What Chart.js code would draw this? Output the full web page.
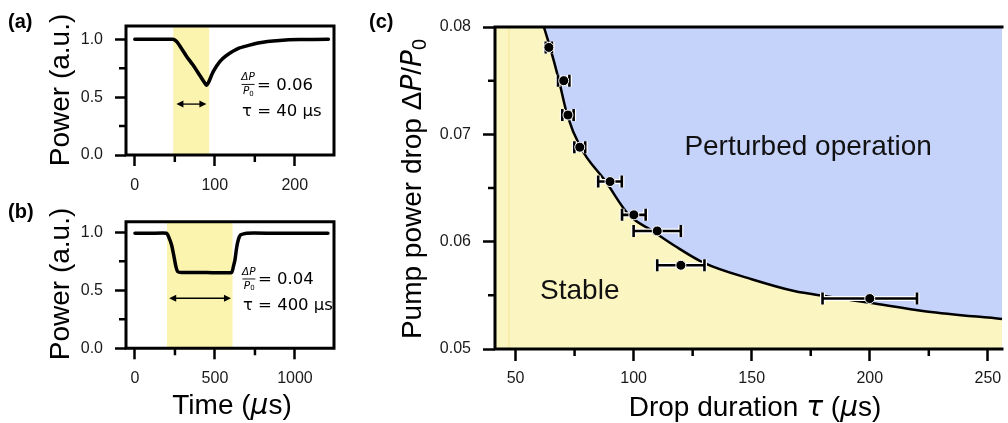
<!DOCTYPE html>
<html lang="en">
<head>
<meta charset="UTF-8">
<title>Pump power drop stability</title>
<script src="https://cdn.jsdelivr.net/npm/chart.js"></script>
<style>
  body { margin: 0; background: #fff; width: 1008px; height: 423px; overflow: hidden; position: relative; }
  canvas { position: absolute; }
  .panel { position: absolute; font-family: "Liberation Sans", Arial, sans-serif; font-weight: bold; font-size: 20px; line-height: 20px; color: #000; }
</style>
</head>
<body>
<canvas id="chartA" width="345" height="200" style="left:0;top:0"></canvas>
<canvas id="chartB" width="345" height="228" style="left:0;top:195px"></canvas>
<canvas id="chartC" width="638" height="423" style="left:370px;top:0"></canvas>
<div class="panel" style="left:8px;top:11px">(a)</div>
<div class="panel" style="left:8px;top:201px">(b)</div>
<div class="panel" style="left:369px;top:11px">(c)</div>

<script>
// ---- panel (a): short 40 us drop
const timeA  = [0, 20, 40, 47, 50, 53, 57, 65, 73, 82, 89.5, 92, 98, 106, 115, 131, 156, 181, 206, 242];
const powerA = [1.0, 1.0, 1.0, 1.0, 0.995, 0.975, 0.935, 0.85, 0.776, 0.68, 0.604, 0.625, 0.72, 0.805, 0.862, 0.925, 0.971, 0.99, 0.998, 1.0];
const bandA  = [48, 93];
const arrowA = [52, 89.5, 0.44];
const xMajorA = [0, 100, 200];
const xMinorA = [50, 150];

// ---- panel (b): long 400 us drop
const timeB  = [0, 100, 198, 210, 229, 244, 256, 267, 292, 450, 604, 615, 625, 635, 646, 660, 698, 850, 1000, 1206];
const powerB = [0.99, 0.99, 0.991, 0.962, 0.89, 0.79, 0.703, 0.66, 0.652, 0.652, 0.652, 0.703, 0.761, 0.862, 0.934, 0.977, 0.991, 0.991, 0.99, 0.99];
const bandB  = [200, 610];
const arrowB = [214, 600, 0.431];
const xMajorB = [0, 500, 1000];
const xMinorB = [250, 750];

// power axis of (a) and (b)
const yMajorPower = [0, 0.5, 1.0];
const yMinorPower = [0.25, 0.75];

// ---- panel (c): stability map
const dropTau    = [64.1, 70.4, 72.2, 77.2, 90.0, 100.1, 110, 120, 200];
const dropDP     = [0.0781, 0.0750, 0.0718, 0.0688, 0.0656, 0.0625, 0.0610, 0.0578, 0.0547];
const dropTauErr = [1.3, 2.4, 2.4, 2.3, 5, 5, 10, 10, 20];
const edgeTau = [62, 64.5, 68.3, 71.9, 77.5, 88.2, 98, 108, 117.5, 130, 150, 168, 182, 200, 224, 256];
const edgeDP  = [0.0800, 0.0782, 0.0751, 0.0718, 0.0688, 0.0656, 0.0625, 0.0610, 0.0596, 0.0580, 0.0565, 0.0554, 0.0549, 0.0543, 0.0535, 0.0528];
const xMajorC = [50, 100, 150, 200, 250];
const xMinorC = [75, 125, 175, 225];
const yMajorC = [0.05, 0.06, 0.07, 0.08];
const yMinorC = [0.055, 0.065, 0.075];

const SANS = '"Liberation Sans", Arial, "DejaVu Sans", sans-serif';
const MATH = '"DejaVu Sans", sans-serif';
const TITLE = '28px ' + SANS;
const TITLE_IT = 'italic 28px ' + MATH;
const YELLOW_BAND = '#fbf4ae';
const YELLOW_STABLE = '#fbf6c1';
const BLUE_PERTURBED = '#c5d2fa';

function toXY(xs, ys) {
  return xs.map(function (x, i) { return {x: x, y: ys[i]}; });
}

function fixScale(size, horizontal) {
  return function (s) {
    if (horizontal) s.height = size; else s.width = size;
    s.paddingTop = s.paddingBottom = s.paddingLeft = s.paddingRight = 0;
  };
}

function useTicks(values) {
  return function (s) { s.ticks = values.map(function (v) { return {value: v}; }); };
}

// text made of several font runs, centred on x, baseline at y (rotated for y titles)
function drawRich(ctx, parts, x, y, rotate) {
  ctx.save();
  ctx.translate(x, y);
  if (rotate) ctx.rotate(-Math.PI / 2);
  ctx.fillStyle = '#000';
  ctx.textBaseline = 'alphabetic';
  ctx.textAlign = 'left';
  let w = 0;
  parts.forEach(function (p) { ctx.font = p.f; w += ctx.measureText(p.t).width; });
  let cx = -w / 2;
  parts.forEach(function (p) {
    ctx.font = p.f;
    ctx.fillText(p.t, cx, p.dy || 0);
    cx += ctx.measureText(p.t).width;
  });
  ctx.restore();
}

// axis titles (drawn here so they may run past the plot height like the original)
const axisTitles = {
  id: 'axisTitles',
  afterDraw(chart, args, opts) {
    (opts.items || []).forEach(function (it) {
      drawRich(chart.ctx, it.parts, it.x, it.y, it.rotate);
    });
  }
};

// black frame around the plot area, plus the short minor ticks
const spines = {
  id: 'spines',
  afterDraw(chart, args, opts) {
    const a = chart.chartArea, ctx = chart.ctx;
    ctx.save();
    ctx.strokeStyle = '#000';
    ctx.lineWidth = 2.5;
    ctx.beginPath();
    (opts.xMinor || []).forEach(function (v) {
      const x = chart.scales.x.getPixelForValue(v);
      ctx.moveTo(x, a.bottom); ctx.lineTo(x, a.bottom + opts.minorLen);
    });
    (opts.yMinor || []).forEach(function (v) {
      const y = chart.scales.y.getPixelForValue(v);
      ctx.moveTo(a.left, y); ctx.lineTo(a.left - opts.minorLen, y);
    });
    ctx.stroke();
    ctx.lineWidth = 3;
    ctx.beginPath();
    ctx.moveTo(a.left, a.bottom); ctx.lineTo(a.left, a.top);
    if (opts.right) { ctx.moveTo(a.right, a.top); ctx.lineTo(a.right, a.bottom); }
    ctx.moveTo(a.left - 1.5, a.top); ctx.lineTo(a.right + 1.5, a.top);
    ctx.moveTo(a.left - 1.5, a.bottom); ctx.lineTo(a.right + 1.5, a.bottom);
    ctx.stroke();
    ctx.restore();
  }
};

// yellow drop window, double arrow and the dP / tau note
const pulseNotes = {
  id: 'pulseNotes',
  beforeDatasetsDraw(chart, args, o) {
    const a = chart.chartArea, ctx = chart.ctx, xs = chart.scales.x;
    ctx.save();
    ctx.fillStyle = YELLOW_BAND;
    const x1 = xs.getPixelForValue(o.band[0]), x2 = xs.getPixelForValue(o.band[1]);
    ctx.fillRect(x1, a.top, x2 - x1, a.bottom - a.top);
    ctx.restore();
  },
  afterDatasetsDraw(chart, args, o) {
    const ctx = chart.ctx, xs = chart.scales.x, ys = chart.scales.y;
    ctx.save();
    // double arrow
    const ax1 = xs.getPixelForValue(o.arrow[0]), ax2 = xs.getPixelForValue(o.arrow[1]);
    const ay = ys.getPixelForValue(o.arrow[2]);
    ctx.strokeStyle = '#000'; ctx.fillStyle = '#000'; ctx.lineWidth = 1.3;
    ctx.beginPath(); ctx.moveTo(ax1 + 4, ay); ctx.lineTo(ax2 - 4, ay); ctx.stroke();
    ctx.beginPath();
    ctx.moveTo(ax1, ay); ctx.lineTo(ax1 + 7, ay - 3.5); ctx.lineTo(ax1 + 7, ay + 3.5); ctx.closePath();
    ctx.moveTo(ax2, ay); ctx.lineTo(ax2 - 7, ay - 3.5); ctx.lineTo(ax2 - 7, ay + 3.5); ctx.closePath();
    ctx.fill();

    // fraction dP/P0
    const fx = xs.getPixelForValue(o.note[0]), fy = ys.getPixelForValue(o.note[1]);
    ctx.textBaseline = 'middle';
    ctx.textAlign = 'center';
    ctx.font = 'italic 10.5px ' + MATH;
    ctx.fillText('ΔP', fx, fy - 7);
    ctx.fillText('P', fx - 2, fy + 7);
    ctx.font = '7px ' + MATH;
    ctx.fillText('0', fx + 3.5, fy + 9.5);
    ctx.lineWidth = 0.9;
    ctx.beginPath(); ctx.moveTo(fx - 6.5, fy); ctx.lineTo(fx + 6.5, fy); ctx.stroke();
    ctx.textAlign = 'left';
    ctx.font = '16.5px ' + MATH;
    ctx.fillText('= ' + o.dp, fx + 9, fy + 1);
    ctx.fillText('τ = ' + o.tau + ' μs', fx - 6, fy + 27);
    ctx.restore();
  }
};

function pulseOptions(xMin, xMax, xMajor, xMinor, yMax, top, xHeight, titles, notes) {
  return {
    responsive: false,
    animation: false,
    layout: {padding: {left: 0, top: top, right: 11, bottom: 0}},
    plugins: {
      legend: {display: false},
      tooltip: {enabled: false},
      spines: {right: true, xMinor: xMinor, yMinor: yMinorPower, minorLen: 7},
      axisTitles: {items: titles},
      pulseNotes: notes
    },
    scales: {
      x: {
        type: 'linear', min: xMin, max: xMax,
        afterBuildTicks: useTicks(xMajor),
        afterFit: fixScale(xHeight, true),
        border: {display: false},
        grid: {drawOnChartArea: false, drawTicks: true, tickLength: 11, tickWidth: 2.5, tickColor: '#000'},
        ticks: {
          autoSkip: false, maxRotation: 0, padding: 10,
          color: '#1a1a1a', font: {family: SANS, size: 16},
          callback: function (v) { return String(v); }
        }
      },
      y: {
        type: 'linear', min: 0, max: yMax,
        afterBuildTicks: useTicks(yMajorPower),
        afterFit: fixScale(126, false),
        border: {display: false},
        grid: {drawOnChartArea: false, drawTicks: true, tickLength: 11, tickWidth: 2.5, tickColor: '#000'},
        ticks: {
          autoSkip: false, padding: 12,
          color: '#1a1a1a', font: {family: SANS, size: 16},
          callback: function (v) { return v.toFixed(1); }
        }
      }
    }
  };
}

function traceDataset(xs, ys) {
  return {
    data: toXY(xs, ys),
    showLine: true, borderColor: '#000', borderWidth: 3.5,
    pointRadius: 0, tension: 0.15, borderJoinStyle: 'round', borderCapStyle: 'round'
  };
}

const powerTitle = [{t: 'Power (a.u.)', f: TITLE}];

new Chart(document.getElementById('chartA'), {
  type: 'scatter',
  data: {datasets: [traceDataset(timeA, powerA)]},
  options: pulseOptions(-11, 249, xMajorA, xMinorA, 1.115, 26, 45,
    [{parts: powerTitle, x: 68.5, y: 90, rotate: true}],
    {band: bandA, arrow: arrowA, note: [141.6, 0.61], dp: '0.06', tau: '40'}),
  plugins: [spines, pulseNotes, axisTitles]
});

new Chart(document.getElementById('chartB'), {
  type: 'scatter',
  data: {datasets: [traceDataset(timeB, powerB)]},
  options: pulseOptions(-56, 1244, xMajorB, xMinorB, 1.09, 26.7, 74.7,
    [{parts: powerTitle, x: 68.5, y: 89, rotate: true},
     {parts: [{t: 'Time (', f: TITLE}, {t: 'μ', f: TITLE_IT}, {t: 's)', f: TITLE}], x: 232, y: 219, rotate: false}],
    {band: bandB, arrow: arrowB, note: [712, 0.597], dp: '0.04', tau: '400'}),
  plugins: [spines, pulseNotes, axisTitles]
});

// ---- panel (c)
const stableMarkTau = 47.2;

const stabilityMap = {
  id: 'stabilityMap',
  beforeDraw(chart) {
    const a = chart.chartArea, ctx = chart.ctx, xs = chart.scales.x;
    ctx.save();
    ctx.fillStyle = YELLOW_STABLE;
    ctx.fillRect(a.left, a.top, a.right - a.left, a.bottom - a.top);
    ctx.strokeStyle = '#f4eaa2';
    ctx.lineWidth = 1.5;
    const mx = xs.getPixelForValue(stableMarkTau);
    ctx.beginPath(); ctx.moveTo(mx, a.top); ctx.lineTo(mx, a.bottom); ctx.stroke();
    ctx.restore();
  },
  afterDatasetDraw(chart, args) {
    if (args.index !== 1) return;
    // horizontal error bars, drawn after the boundary and before the markers
    const ctx = chart.ctx, xs = chart.scales.x, ys = chart.scales.y;
    ctx.save();
    for (let pass = 0; pass < 2; pass++) {
      ctx.strokeStyle = pass ? '#000' : '#fff';
      ctx.lineWidth = pass ? 2.6 : 5;
      ctx.lineCap = 'butt';
      dropTau.forEach(function (t, i) {
        const x1 = xs.getPixelForValue(t - dropTauErr[i]);
        const x2 = xs.getPixelForValue(t + dropTauErr[i]);
        const y = ys.getPixelForValue(dropDP[i]);
        ctx.beginPath();
        ctx.moveTo(x1, y); ctx.lineTo(x2, y);
        ctx.moveTo(x1, y - 6); ctx.lineTo(x1, y + 6);
        ctx.moveTo(x2, y - 6); ctx.lineTo(x2, y + 6);
        ctx.stroke();
      });
    }
    ctx.restore();
  },
  afterDraw(chart) {
    const ctx = chart.ctx, xs = chart.scales.x, ys = chart.scales.y;
    ctx.save();
    ctx.fillStyle = '#111';
    ctx.font = TITLE;
    ctx.textAlign = 'center';
    ctx.textBaseline = 'middle';
    ctx.fillText('Perturbed operation', xs.getPixelForValue(173.9), ys.getPixelForValue(0.0688));
    ctx.fillText('Stable', xs.getPixelForValue(77.2), ys.getPixelForValue(0.05535));
    ctx.restore();
  }
};

new Chart(document.getElementById('chartC'), {
  type: 'scatter',
  data: {
    datasets: [
      {
        data: toXY(dropTau, dropDP),
        pointRadius: 5, pointBackgroundColor: '#000', pointBorderColor: '#fff', pointBorderWidth: 1
      },
      {
        data: toXY(edgeTau, edgeDP),
        showLine: true, borderColor: '#000', borderWidth: 2.5, pointRadius: 0,
        tension: 0.3, cubicInterpolationMode: 'monotone',
        fill: 'end', backgroundColor: BLUE_PERTURBED
      }
    ]
  },
  options: {
    responsive: false,
    animation: false,
    layout: {padding: {left: 0, top: 27, right: 0, bottom: 0}},
    plugins: {
      legend: {display: false}, tooltip: {enabled: false},
      spines: {right: false, xMinor: xMinorC, yMinor: yMinorC, minorLen: 7},
      axisTitles: {items: [
        {parts: [{t: 'Pump power drop Δ', f: TITLE}, {t: 'P', f: TITLE_IT}, {t: '/', f: TITLE},
                 {t: 'P', f: TITLE_IT}, {t: '0', f: '20px ' + SANS, dy: 5}], x: 50.5, y: 189, rotate: true},
        {parts: [{t: 'Drop duration ', f: TITLE}, {t: 'τ', f: TITLE_IT}, {t: ' (', f: TITLE},
                 {t: 'μ', f: TITLE_IT}, {t: 's)', f: TITLE}], x: 385, y: 416, rotate: false}
      ]}
    },
    scales: {
      x: {
        type: 'linear', min: 41.3, max: 256,
        afterBuildTicks: useTicks(xMajorC),
        afterFit: fixScale(74, true),
        border: {display: false},
        grid: {drawOnChartArea: false, drawTicks: true, tickLength: 12, tickWidth: 2.5, tickColor: '#000'},
        ticks: {
          autoSkip: false, maxRotation: 0, padding: 8,
          color: '#1a1a1a', font: {family: SANS, size: 16},
          callback: function (v) { return String(v); }
        }
      },
      y: {
        type: 'linear', min: 0.05, max: 0.08,
        afterBuildTicks: useTicks(yMajorC),
        afterFit: fixScale(125, false),
        border: {display: false},
        grid: {drawOnChartArea: false, drawTicks: true, tickLength: 12, tickWidth: 2.5, tickColor: '#000'},
        ticks: {
          autoSkip: false, padding: 12,
          color: '#1a1a1a', font: {family: SANS, size: 16},
          callback: function (v) { return v.toFixed(2); }
        }
      }
    }
  },
  plugins: [spines, stabilityMap, axisTitles]
});
</script>
</body>
</html>
